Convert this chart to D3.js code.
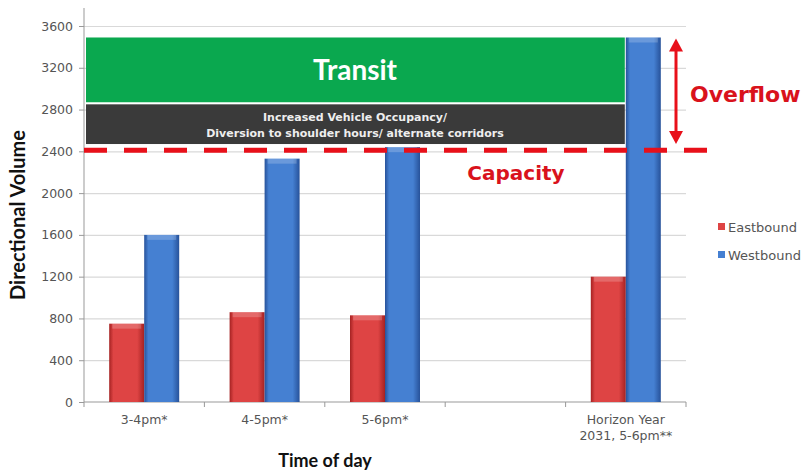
<!DOCTYPE html>
<html lang="en">
<head>
<meta charset="utf-8">
<title>Directional Volume by Time of Day</title>
<script src="https://cdn.jsdelivr.net/npm/d3@7"></script>
<style>
  body { margin: 0; background: #fff; }
  svg { font-family: "DejaVu Sans", sans-serif; }
</style>
</head>
<body>
<svg id="chart" width="807" height="472"></svg>
<script>
// data
var categories = ["3-4pm*", "4-5pm*", "5-6pm*", "", "Horizon Year|2031, 5-6pm**"];
var series = ["Eastbound", "Westbound"];
var eastbound = [750, 860, 830, null, 1200];
var westbound = [1600, 2330, 2440, null, 3490];
var yTicks = [0, 400, 800, 1200, 1600, 2000, 2400, 2800, 3200, 3600];
var capacity = 2400;
var transitBand = [2870, 3490];
var occupancyBand = [2470, 2850];
var colors = { Eastbound: ["#a52222", "#de4444"], Westbound: ["#27529a", "#4580d2"] };

var svg = d3.select("#chart");
var plotLeft = 84, plotRight = 686, plotTop = 26, plotBottom = 402;

var x0 = d3.scaleBand().domain(d3.range(categories.length)).range([plotLeft, plotRight]);
var bw = x0.bandwidth();
var x1 = d3.scaleBand().domain(series).range([(bw - 70) / 2, (bw + 70) / 2]);
var y = d3.scaleLinear().domain([0, 3600]).range([plotBottom, plotTop]);

// gradients for the bevel look
var defs = svg.append("defs");
series.forEach(function(s) {
  var g = defs.append("linearGradient").attr("id", "g" + s).attr("x1", "0").attr("x2", "1");
  g.append("stop").attr("offset", "0").attr("stop-color", colors[s][0]);
  g.append("stop").attr("offset", "0.12").attr("stop-color", colors[s][1]);
  g.append("stop").attr("offset", "0.8").attr("stop-color", colors[s][1]);
  g.append("stop").attr("offset", "1").attr("stop-color", colors[s][0]);
});

// gridlines
svg.append("g").selectAll("line").data(yTicks.slice(1)).enter().append("line")
  .attr("x1", plotLeft).attr("x2", plotRight)
  .attr("y1", function(d) { return y(d) + 0.5; }).attr("y2", function(d) { return y(d) + 0.5; })
  .attr("stroke", "#d9d9d9").attr("stroke-width", 1.2);

// y axis
var yAxis = svg.append("g").attr("transform", "translate(" + plotLeft + ",0)")
  .call(d3.axisLeft(y).tickValues(yTicks).tickFormat(d3.format("d")).tickSize(5).tickPadding(6));
yAxis.select(".domain").attr("d", "M0,8V" + plotBottom).attr("stroke", "#999");
yAxis.selectAll(".tick line").attr("stroke", "#999");
yAxis.selectAll("text").attr("fill", "#555").style("font-size", "12.5px").style("font-family", "DejaVu Sans, sans-serif");

// x axis
var xAxis = svg.append("g").attr("transform", "translate(0," + plotBottom + ")");
xAxis.append("line").attr("x1", plotLeft).attr("x2", plotRight).attr("stroke", "#999").attr("stroke-width", 1.2);
xAxis.selectAll("line.tk").data(d3.range(categories.length + 1)).enter().append("line")
  .attr("class", "tk")
  .attr("x1", function(i) { return plotLeft + i * bw; }).attr("x2", function(i) { return plotLeft + i * bw; })
  .attr("y1", 0).attr("y2", 5).attr("stroke", "#999");
xAxis.selectAll("text").data(categories).enter().append("text")
  .attr("text-anchor", "middle").attr("fill", "#555").style("font-size", "12.5px")
  .attr("transform", function(d, i) { return "translate(" + (x0(i) + bw / 2) + ",22)"; })
  .each(function(d) {
    var t = d3.select(this);
    d.split("|").forEach(function(line, k) {
      t.append("tspan").attr("x", 0).attr("dy", k === 0 ? 0 : 16).text(line);
    });
  });

// bars
var rows = categories.map(function(c, i) {
  return { i: i, values: [{ s: "Eastbound", v: eastbound[i] }, { s: "Westbound", v: westbound[i] }] };
});
var barG = svg.append("g").selectAll("g").data(rows).enter().append("g")
  .attr("transform", function(d) { return "translate(" + x0(d.i) + ",0)"; })
  .selectAll("g").data(function(d) { return d.values.filter(function(e) { return e.v != null; }); })
  .enter().append("g");
barG.append("rect")
  .attr("x", function(d) { return x1(d.s); })
  .attr("width", x1.bandwidth())
  .attr("y", function(d) { return y(d.v); })
  .attr("height", function(d) { return plotBottom - y(d.v); })
  .attr("fill", function(d) { return "url(#g" + d.s + ")"; });
// top bevel highlight
barG.append("rect")
  .attr("x", function(d) { return x1(d.s) + 3; })
  .attr("width", x1.bandwidth() - 6)
  .attr("y", function(d) { return y(d.v); })
  .attr("height", 5)
  .attr("fill", "#fff").attr("opacity", 0.2);

// annotation boxes
var boxLeft = plotLeft + 2, boxRight = x0(4) + x1("Westbound") - 1;
svg.append("rect").attr("x", boxLeft).attr("width", boxRight - boxLeft)
  .attr("y", y(transitBand[1])).attr("height", y(transitBand[0]) - y(transitBand[1]))
  .attr("fill", "#0aa84f");
svg.append("rect").attr("x", boxLeft).attr("width", boxRight - boxLeft)
  .attr("y", y(occupancyBand[1])).attr("height", y(occupancyBand[0]) - y(occupancyBand[1]))
  .attr("fill", "#3a3a3a");
svg.append("text").attr("x", 355).attr("y", (y(transitBand[0]) + y(transitBand[1])) / 2 + 10)
  .attr("text-anchor", "middle").attr("fill", "#fff").style("font-family", "Lato, sans-serif")
  .style("font-size", "28px").style("font-weight", "bold")
  .text("Transit");
svg.append("text").attr("x", 355).attr("y", y(occupancyBand[1]) + 17)
  .attr("text-anchor", "middle").attr("fill", "#eee").style("font-size", "11px").style("font-weight", "bold")
  .text("Increased Vehicle Occupancy/");
svg.append("text").attr("x", 355).attr("y", y(occupancyBand[1]) + 33)
  .attr("text-anchor", "middle").attr("fill", "#eee").style("font-size", "11px").style("font-weight", "bold")
  .text("Diversion to shoulder hours/ alternate corridors");

// capacity line
svg.append("line").attr("x1", plotLeft).attr("x2", 710)
  .attr("y1", y(capacity) - 1).attr("y2", y(capacity) - 1)
  .attr("stroke", "#e8101a").attr("stroke-width", 5).attr("stroke-dasharray", "23,17");
svg.append("text").attr("x", 516).attr("y", 180).attr("text-anchor", "middle")
  .attr("fill", "#d9121c").style("font-size", "20px").style("font-weight", "bold").text("Capacity");

// overflow arrow
var ax = 676, ay1 = y(transitBand[1]) + 1, ay2 = y(occupancyBand[0]);
svg.append("line").attr("x1", ax).attr("x2", ax).attr("y1", ay1 + 10).attr("y2", ay2 - 10)
  .attr("stroke", "#e8101a").attr("stroke-width", 3);
svg.append("path").attr("d", "M" + ax + "," + ay1 + "l-7,13h14z").attr("fill", "#e8101a");
svg.append("path").attr("d", "M" + ax + "," + ay2 + "l-7,-13h14z").attr("fill", "#e8101a");
svg.append("text").attr("x", 690).attr("y", 102)
  .attr("fill", "#d9121c").style("font-size", "22px").style("font-weight", "bold").text("Overflow");

// legend
var legend = svg.append("g").selectAll("g").data(series).enter().append("g")
  .attr("transform", function(d, i) { return "translate(718," + (228 + i * 28) + ")"; });
legend.append("rect").attr("x", 0).attr("y", -5).attr("width", 7).attr("height", 7)
  .attr("fill", function(d) { return colors[d][1]; });
legend.append("text").attr("x", 10).attr("y", 4).attr("fill", "#555").style("font-size", "13px")
  .text(function(d) { return d; });

// axis titles
svg.append("text").attr("transform", "translate(25,215) rotate(-90)").attr("text-anchor", "middle")
  .style("font-family", "Lato, sans-serif")
  .style("font-size", "20px").style("font-weight", "bold").attr("fill", "#111").text("Directional Volume");
svg.append("text").attr("x", 325).attr("y", 467).attr("text-anchor", "middle")
  .style("font-family", "Lato, sans-serif")
  .style("font-size", "18px").style("font-weight", "bold").attr("fill", "#111").text("Time of day");
</script>
</body>
</html>
